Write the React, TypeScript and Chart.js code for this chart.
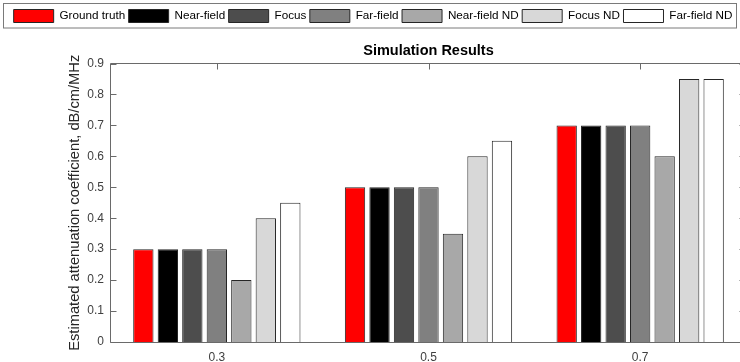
import React, { useEffect, useRef } from "react";
import { Chart, registerables } from "chart.js";

Chart.register(...registerables);

const categories = ["0.3", "0.5", "0.7"];
const seriesNames = [
  "Ground truth",
  "Near-field",
  "Focus",
  "Far-field",
  "Near-field ND",
  "Focus ND",
  "Far-field ND",
];
const groundTruth = [0.3, 0.5, 0.7];
const nearField = [0.3, 0.5, 0.7];
const focus = [0.3, 0.5, 0.7];
const farField = [0.3, 0.5, 0.7];
const nearFieldND = [0.2, 0.35, 0.6];
const focusND = [0.4, 0.6, 0.85];
const farFieldND = [0.45, 0.65, 0.85];
const seriesValues = [groundTruth, nearField, focus, farField, nearFieldND, focusND, farFieldND];
const seriesColors = ["#ff0000", "#000000", "#4d4d4d", "#808080", "#a8a8a8", "#d8d8d8", "#ffffff"];
const yMin = 0;
const yMax = 0.9;
const yStep = 0.1;

const FONT = "'Liberation Sans', Arial, Helvetica, sans-serif";
const AXIS_COLOR = "#6a6a6a";

const framePlugin = {
  id: "frame",
  afterDraw(chart: any) {
    const { ctx, chartArea } = chart;
    const { left, right, top, bottom } = chartArea;
    const ys = chart.scales.y;
    const xs = chart.scales.x;
    ctx.save();
    ctx.strokeStyle = AXIS_COLOR;
    ctx.lineWidth = 1;
    ctx.beginPath();
    const L = Math.round(left) - 0.5;
    const R = Math.round(right) - 0.5;
    const T = Math.round(top) - 0.5;
    const B = Math.round(bottom) + 0.5;
    ctx.moveTo(L, B);
    ctx.lineTo(L, T);
    ctx.lineTo(R, T);
    ctx.lineTo(R, B);
    ctx.lineTo(L, B);
    ys.ticks.forEach((t: any) => {
      const py = Math.round(ys.getPixelForValue(t.value)) + 0.5;
      ctx.moveTo(L, py);
      ctx.lineTo(L + 6, py);
      ctx.moveTo(R, py);
      ctx.lineTo(R - 6, py);
    });
    categories.forEach((_c, i) => {
      const px = Math.round(xs.getPixelForValue(i)) + 0.5;
      ctx.moveTo(px, T);
      ctx.lineTo(px, T + 6);
    });
    ctx.stroke();
    // legend frame
    ctx.strokeStyle = "#7a7a7a";
    ctx.strokeRect(3.5, 3.5, 733, 24.5);
    ctx.restore();
  },
};

export default function App() {
  const ref = useRef<HTMLCanvasElement | null>(null);
  useEffect(() => {
    document.body.style.margin = "0";
    document.body.style.overflow = "hidden";
    const canvas = ref.current;
    if (!canvas) return;
    const chart = new Chart(canvas, {
      type: "bar",
      data: {
        labels: categories,
        datasets: seriesNames.map((name, i) => ({
          label: name,
          data: seriesValues[i],
          backgroundColor: seriesColors[i],
          borderColor: "#262626",
          borderWidth: 1,
          borderSkipped: "start",
          categoryPercentage: 0.81,
          barPercentage: 0.83,
        })),
      },
      options: {
        animation: false,
        responsive: false,
        maintainAspectRatio: false,
        layout: { padding: { top: 6, left: 0, right: 0, bottom: 0 } },
        plugins: {
          legend: {
            display: true,
            position: "top",
            weight: 1000,
            labels: {
              boxWidth: 40,
              boxHeight: 13,
              padding: 3.5,
              color: "#000000",
              font: { family: FONT, size: 11.7 },
            },
          },
          title: {
            display: true,
            text: "Simulation Results",
            weight: 500,
            fullSize: false,
            color: "#000000",
            font: { family: FONT, size: 14.5, weight: "bold" },
            padding: { top: 9.8, bottom: 3.8 },
          },
          tooltip: { enabled: false },
        },
        scales: {
          x: {
            type: "category",
            offset: true,
            grid: { display: false, drawTicks: false },
            border: { display: false },
            ticks: {
              color: "#404040",
              padding: 8,
              font: { family: FONT, size: 12 },
              maxRotation: 0,
            },
            afterFit: (s: any) => {
              s.height = 20;
            },
          },
          y: {
            type: "linear",
            min: yMin,
            max: yMax,
            grid: { display: false, drawTicks: false },
            border: { display: false },
            ticks: {
              stepSize: yStep,
              color: "#404040",
              padding: 7,
              font: { family: FONT, size: 12 },
              callback: (v: any) => (Number(v) === 0 ? "0" : Number(v).toFixed(1)),
            },
            title: {
              display: true,
              text: "Estimated attenuation coefficient, dB/cm/MHz",
              color: "#262626",
              font: { family: FONT, size: 14.7 },
              padding: { top: 66, bottom: 0 },
            },
            afterFit: (s: any) => {
              s.width = 111;
            },
          },
        },
      },
      plugins: [framePlugin],
    });
    return () => chart.destroy();
  }, []);
  return (
    <div style={{ position: "fixed", left: 0, top: 0, width: 746, height: 362 }}>
      <canvas ref={ref} width={746} height={362} style={{ width: 746, height: 362, display: "block" }} />
    </div>
  );
}
